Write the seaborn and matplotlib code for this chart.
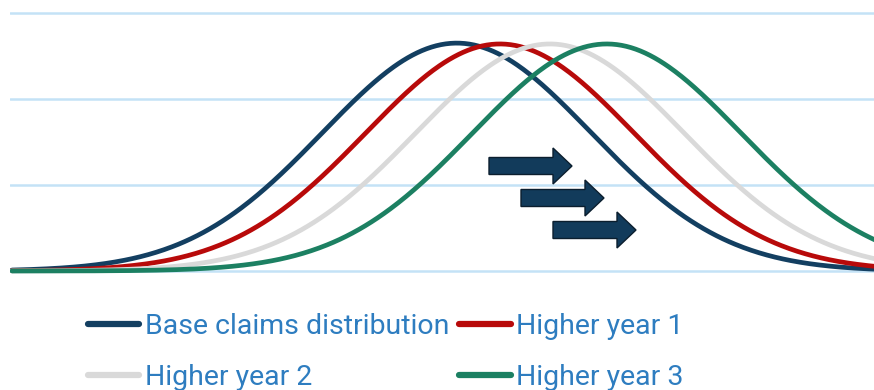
import numpy as np
import pandas as pd
import seaborn as sns
import matplotlib
matplotlib.use("Agg")
import matplotlib.pyplot as plt
from matplotlib.patches import FancyArrow
from matplotlib.lines import Line2D

# Claims distributions: each series is a normal curve given by its centre,
# spread and peak height (y in gridline units).
series_names = ["Base claims distribution", "Higher year 1", "Higher year 2", "Higher year 3"]
series_means = [51.6, 56.6, 62.4, 69.0]
series_sds = [15.6, 15.6, 15.6, 15.6]
series_peaks = [2.65, 2.64, 2.64, 2.64]
series_colors = ["#133F61", "#B80A0A", "#D9D9D9", "#1C8062"]

claim_grid = np.linspace(0, 110, 600)

frames = []
for name, mu, sd, peak in zip(series_names, series_means, series_sds, series_peaks):
    frames.append(pd.DataFrame({
        "claim": claim_grid,
        "density": peak * np.exp(-0.5 * ((claim_grid - mu) / sd) ** 2),
        "series": name,
    }))
df = pd.concat(frames, ignore_index=True)

sns.set_theme(style="white")
plt.rcParams["font.family"] = ["Roboto", "DejaVu Sans"]

W, H = 874, 390
fig = plt.figure(figsize=(W / 100, H / 100), dpi=100)

# axes box in pixels: x 10..874, y (top) 8.7..275.3
ax = fig.add_axes([10 / W, (H - 275.3) / H, (W - 10) / W, (275.3 - 8.7) / H])
ax.set_xlim(-0.23, 100)
ax.set_ylim(-0.05, 3.05)

for yv in [0, 1, 2, 3]:
    ax.axhline(yv, color="#C4E2F6", lw=1.8, zorder=0)

sns.lineplot(data=df, x="claim", y="density", hue="series",
             hue_order=series_names, palette=series_colors,
             linewidth=3.4, legend=False, ax=ax, sort=False)
for ln in ax.lines[4:]:
    ln.set_solid_capstyle("round")

ax.set_axis_off()

# shift arrows (pixel geometry converted to figure fractions)
def px_arrow(x0, x1, yc):
    fx, fy = 1 / W, 1 / H
    arr = FancyArrow(x0 * fx, (H - yc) * fy, (x1 - x0) * fx, 0,
                     width=17 * fy, head_width=36 * fy, head_length=19 * fx,
                     length_includes_head=True, transform=fig.transFigure,
                     facecolor="#123B5B", edgecolor="#0B1E2E", linewidth=1.0,
                     zorder=5)
    fig.add_artist(arr)

px_arrow(489, 572, 166)
px_arrow(521, 604, 198)
px_arrow(553, 636, 230)

# legend fills column by column: order so rows read Base / Year 1, Year 2 / Year 3
order = [0, 2, 1, 3]
handles = [Line2D([0], [0], color=series_colors[i], lw=4.5, solid_capstyle="round") for i in order]
labels = [series_names[i] for i in order]
leg = fig.legend(handles, labels, loc="upper left",
                 bbox_to_anchor=(88 / W, (H - 312.5) / H), ncol=2, frameon=False,
                 fontsize=20.5, handlelength=1.8, handletextpad=0.2,
                 columnspacing=0.35, labelspacing=0.85, borderpad=0,
                 borderaxespad=0)
for t in leg.get_texts():
    t.set_color("#2E7DC0")

fig.savefig("out.png", dpi=100)
